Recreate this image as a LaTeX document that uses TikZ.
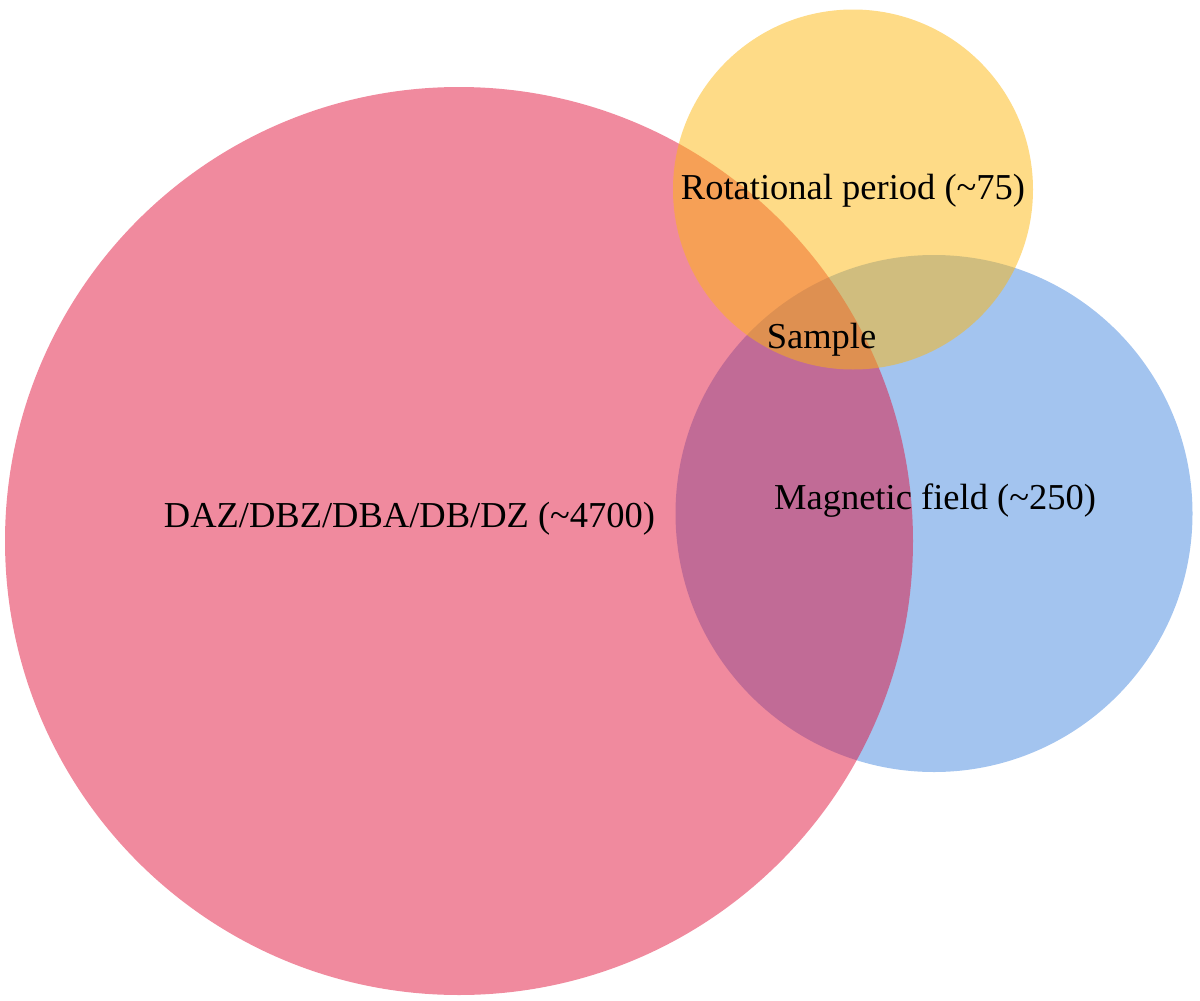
\documentclass[tikz,border=0pt]{standalone}
\usepackage{fontspec}
\setmainfont{Liberation Serif}
\definecolor{cred}{RGB}{225,21,61}
\definecolor{cblue}{RGB}{71,137,223}
\definecolor{cyellow}{RGB}{253,183,15}
\tikzset{
  setcircle/.style={circle, inner sep=0pt, draw=none, fill opacity=0.5},
  setlabel/.style={anchor=base, inner sep=0pt, text=black, font=\fontsize{36.5}{40}\selectfont}
}
\begin{document}
\begin{tikzpicture}[x=1pt,y=-1pt]
\useasboundingbox (0,0) rectangle (1200,1001);
\node[setcircle, fill=cblue, minimum size=517pt] (blue) at (934,513.5) {};
\node[setcircle, fill=cred, minimum size=908pt] (red) at (459,541) {};
\node[setcircle, fill=cyellow, minimum size=360pt] (yellow) at (853,189.5) {};
\node[setlabel] (lred) at (409.5,527) {DAZ/DBZ/DBA/DB/DZ (\textasciitilde4700)};
\node[setlabel] (lyellow) at (853,199) {Rotational period (\textasciitilde75)};
\node[setlabel] (lsample) at (821.5,348) {Sample};
\node[setlabel] (lblue) at (935,509) {Magnetic field (\textasciitilde250)};
\end{tikzpicture}
\end{document}
